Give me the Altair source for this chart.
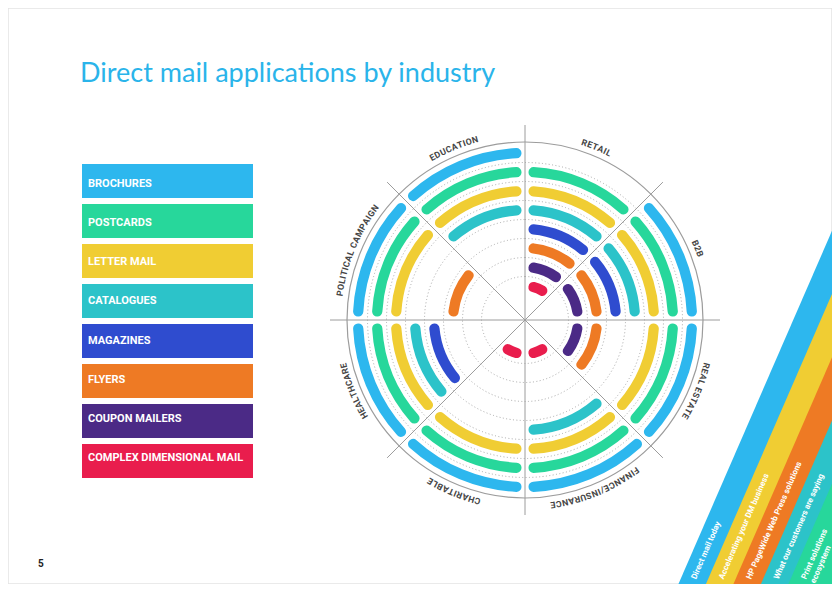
import math
import altair as alt
import pandas as pd

# ---------------- data ----------------
title_text = "Direct mail applications by industry"
page_number = "5"

categories = ["BROCHURES", "POSTCARDS", "LETTER MAIL", "CATALOGUES",
              "MAGAZINES", "FLYERS", "COUPON MAILERS", "COMPLEX DIMENSIONAL MAIL"]
category_colors = ["#2db7ee", "#27d79b", "#f0cd33", "#2cc3c9",
                   "#2f4ccf", "#ee7a24", "#4b2a86", "#e91d4d"]

# clockwise from 12 o'clock
industries = ["RETAIL", "B2B", "REAL ESTATE", "FINANCE/INSURANCE",
              "CHARITABLE", "HEALTHCARE", "POLITICAL CAMPAIGN", "EDUCATION"]

# 1 = application used by the industry (order follows `categories`)
retail      = [0, 1, 1, 1, 1, 1, 1, 1]
b2b         = [1, 1, 1, 1, 1, 1, 1, 0]
real_estate = [1, 1, 1, 0, 0, 1, 1, 0]
finance     = [1, 1, 1, 1, 0, 0, 0, 1]
charitable  = [1, 1, 1, 0, 0, 0, 0, 1]
healthcare  = [1, 1, 1, 1, 1, 0, 0, 0]
political   = [1, 1, 1, 0, 0, 1, 0, 0]
education   = [1, 1, 1, 1, 0, 0, 0, 0]
usage = [retail, b2b, real_estate, finance, charitable, healthcare, political, education]

divider_angles = [0, 45, 90, 135]

stripe_labels = ["Direct mail today", "Accelerating your DM business",
                 "HP PageWide Web Press solutions", "What our customers are saying",
                 "Print solutions\necosystem"]
stripe_colors = ["#2db7ee", "#f0cd33", "#ee7a24", "#2cc3c9", "#27d79b"]

# ---------------- layout ----------------
W, H = 824, 576
CX, CY = 517, 312
R0, DR = 15, 19          # ring k sits at R0 + DR*k pixels
FONT = "Roboto"

ring_rows = []
for s, (ind, flags) in enumerate(zip(industries, usage)):
    for c, (cat, f) in enumerate(zip(categories, flags)):
        if f:
            ring_rows.append({"industry": ind, "sector": s, "category": cat,
                              "ring": len(categories) - c})
rings_df = pd.DataFrame(ring_rows)

T_SCALE = alt.Scale(type="linear", domain=[0, 360], range=[0, 2 * math.pi], zero=False)
R_SCALE = alt.Scale(type="linear", domain=[0, 9], range=[R0, R0 + 9 * DR], zero=False)
C_SCALE = alt.Scale(domain=categories, range=category_colors)

# dotted guide circles between ring slots
grid = alt.Chart(pd.DataFrame({"slot": [k + 0.5 for k in range(1, 8)]})).mark_arc(
    fillOpacity=0, stroke="#a8a8a8", strokeWidth=1, strokeDash=[1, 2.4]
).encode(
    theta=alt.value(0), theta2=alt.value(2 * math.pi),
    radius=alt.Radius("slot:Q", scale=R_SCALE, stack=False),
    radius2=alt.value(0),
    x=alt.value(CX), y=alt.value(CY),
)

outer = alt.Chart(pd.DataFrame({"o": [0]})).mark_arc(
    fillOpacity=0, stroke="#9c9c9c", strokeWidth=1.2
).encode(
    theta=alt.value(0), theta2=alt.value(2 * math.pi),
    radius=alt.value(178), radius2=alt.value(0), x=alt.value(CX), y=alt.value(CY),
)

lines = alt.Chart(pd.DataFrame({"angle": divider_angles})).transform_calculate(
    ux="sin(datum.angle*PI/180)",
    uy="-cos(datum.angle*PI/180)",
    vx="-sin(datum.angle*PI/180)",
    vy="cos(datum.angle*PI/180)",
).mark_rule(color="#9c9c9c", strokeWidth=1).encode(
    x=alt.X("ux:Q", scale=alt.Scale(domain=[-1, 1], range=[CX - 195, CX + 195]), axis=None),
    x2="vx:Q",
    y=alt.Y("uy:Q", scale=alt.Scale(domain=[-1, 1], range=[CY - 195, CY + 195]), axis=None),
    y2="vy:Q",
)

arcs = alt.Chart(rings_df).transform_calculate(
    pad=f"asin(3.5/({R0} + {DR}*datum.ring))*180/PI",
).transform_calculate(
    t1="datum.sector*45 + datum.pad",
    t2="(datum.sector + 1)*45 - datum.pad",
    r_out="datum.ring + 0.27",
    r_in="datum.ring - 0.27",
).mark_arc(cornerRadius=5).encode(
    theta=alt.Theta("t1:Q", scale=T_SCALE, stack=False),
    theta2="t2:Q",
    radius=alt.Radius("r_out:Q", scale=R_SCALE, stack=False),
    radius2="r_in:Q",
    color=alt.Color("category:N", scale=C_SCALE, legend=None),
    x=alt.value(CX), y=alt.value(CY),
)

# curved sector labels, one glyph per row
CHAR_W = {"A": .67, "B": .64, "C": .65, "D": .65, "E": .57, "F": .55, "G": .68,
          "H": .71, "I": .29, "L": .54, "M": .87, "N": .71, "O": .69, "P": .64,
          "R": .63, "S": .61, "T": .61, "U": .65, "/": .41, " ": .25, "2": .56}
LFS, TRACK, R_TXT = 8.8, 0.45, 187
label_rows = []
for s, name in enumerate(industries):
    mid = s * 45 + 22.5
    ws = [CHAR_W.get(ch, .62) * LFS + TRACK for ch in name]
    pos = -sum(ws) / 2
    for ch, w in zip(name, ws):
        phi = (mid + math.degrees((pos + w / 2) / R_TXT)) % 360
        label_rows.append({"ch": ch, "phi": phi})
        pos += w
labels = alt.Chart(pd.DataFrame(label_rows)).mark_text(
    font=FONT, fontSize=LFS, fontWeight="bold", color="#454545",
    align="center", baseline="middle"
).encode(
    theta=alt.Theta("phi:Q", scale=T_SCALE, stack=False),
    radius=alt.value(R_TXT),
    angle=alt.Angle("phi:Q", scale=None),
    text="ch:N",
    x=alt.value(CX), y=alt.value(CY),
)

# legend blocks
legend_df = pd.DataFrame({"category": categories})
LY = alt.Y("category:N", scale=alt.Scale(domain=categories, range=[156, 470],
                                          paddingInner=0.15, paddingOuter=0), axis=None)
legend_rects = alt.Chart(legend_df).mark_rect().encode(
    y=LY, x=alt.value(74), x2=alt.value(245),
    color=alt.Color("category:N", scale=C_SCALE, legend=None),
)
legend_text = alt.Chart(legend_df).mark_text(
    font=FONT, fontSize=11, fontWeight="bold", color="white",
    align="left", baseline="middle"
).encode(y=LY, x=alt.value(80), text="category:N")

title = alt.Chart(pd.DataFrame({"t": [title_text]})).mark_text(
    font="Lato", fontSize=27, color="#2ab4ea", align="left", baseline="alphabetic"
).encode(text="t:N", x=alt.value(72), y=alt.value(74))

pnum = alt.Chart(pd.DataFrame({"t": [page_number]})).mark_text(
    font=FONT, fontSize=10, fontWeight="bold", color="#222222",
    align="left", baseline="alphabetic"
).encode(text="t:N", x=alt.value(30), y=alt.value(559))

# decorative stripes in the bottom-right corner
stripe_df = pd.DataFrame({"label": stripe_labels, "color": stripe_colors,
                          "i": list(range(len(stripe_labels)))})
stripes = alt.Chart(stripe_df).transform_calculate(
    w="datum.i == 4 ? 120 : 40",
).transform_calculate(
    xc="670 + 27.5*datum.i + datum.w/1.834",
).transform_calculate(
    xa="datum.xc - 23*0.4348",
    xb="datum.xc + 427*0.4348",
    ya="600",
    yb="150",
).mark_rule(clip=True, strokeCap="butt").encode(
    x=alt.X("xa:Q", scale=None), x2="xb:Q",
    y=alt.Y("ya:Q", scale=None), y2="yb:Q",
    color=alt.Color("color:N", scale=None),
    strokeWidth=alt.StrokeWidth("w:Q", scale=None),
)
stripe_text = alt.Chart(stripe_df).transform_calculate(
    tx="670 + 27.5*datum.i + 13.5 + 6*0.4348",
    ty="571",
).mark_text(
    angle=293.5, align="left", baseline="middle", font=FONT, fontSize=8.2,
    fontWeight="bold", color="white", lineBreak="\n", lineHeight=10
).encode(x=alt.X("tx:Q", scale=None), y=alt.Y("ty:Q", scale=None), text="label:N")

chart = alt.layer(
    stripes, stripe_text, grid, outer, lines, arcs, labels,
    legend_rects, legend_text, title, pnum
).resolve_scale(
    x="independent", y="independent"
).properties(
    width=W, height=H, autosize=alt.AutoSizeParams(type="none"), padding=0,
    background="white"
).configure_view(stroke="#e4e4e4", strokeWidth=1.5)

chart.save("out.html", embed_options={"renderer": "svg", "actions": False})
